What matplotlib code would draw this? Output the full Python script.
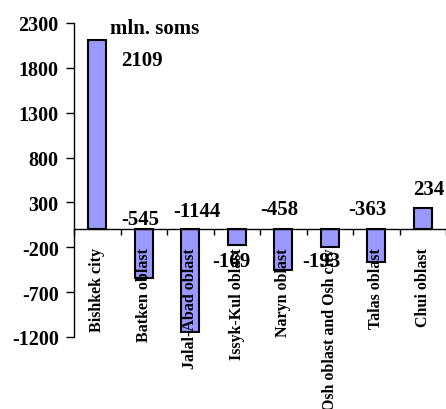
import matplotlib
matplotlib.use("Agg")
import matplotlib.pyplot as plt
import matplotlib.transforms as mtransforms
import numpy as np

categories = ["Bishkek city", "Batken oblast", "Jalal-Abad oblast", "Issyk-Kul oblast",
              "Naryn oblast", "Osh oblast and Osh city", "Talas oblast", "Chui oblast"]
values = [2109, -545, -1144, -169, -458, -193, -363, 234]
yticks = [2300, 1800, 1300, 800, 300, -200, -700, -1200]
unit_label = "mln. soms"

# label offsets in pixels (dx, dy) relative to bar top / zero line
label_offsets = [(45, -20), (-4, 10), (7, 18), (-5, -32), (-4, 20), (-8, -32), (-9, 20), (6, 19)]

plt.rcParams['font.family'] = ['Liberation Serif', 'DejaVu Serif']
plt.rcParams['font.weight'] = 'bold'

fig = plt.figure(figsize=(4.46, 4.10), dpi=100)
ax = fig.add_axes([74/446, 1-338/410, 1-74/446, (338-24)/410])

x = np.arange(len(categories))
bars = ax.bar(x, values, width=0.39, color='#9999FF', edgecolor='black', linewidth=1.5, zorder=2)

ax.set_xlim(-0.5, len(categories)-0.5)
ax.set_ylim(min(yticks), max(yticks))
ax.set_yticks(yticks)
ax.set_yticklabels([str(t) for t in yticks], fontsize=14.5, fontweight='bold')
ax.tick_params(axis='y', direction='out', length=6, width=1, pad=5)

ax.spines['top'].set_visible(False)
ax.spines['right'].set_visible(False)
ax.spines['bottom'].set_position(('data', 0))
for s in ax.spines.values():
    s.set_linewidth(1)
    s.set_zorder(5)
ax.xaxis.set_zorder(6)
ax.yaxis.set_zorder(6)

ax.set_xticks(np.arange(len(categories)+1) - 0.5)
ax.set_xticklabels([])
ax.tick_params(axis='x', which='major', direction='out', length=4, width=1)
ax.set_xticks(x, minor=True)
ax.set_xticklabels(categories, minor=True, rotation=90, fontsize=11.5, fontweight='bold',
                   va='top', ha='center')
ax.tick_params(axis='x', which='minor', length=0, pad=13)

for i, v in enumerate(values):
    dx, dy = label_offsets[i]
    base = v if v > 0 else 0
    ax.annotate(str(v), xy=(i, base), xytext=(dx, dy), textcoords='offset pixels',
                ha='center', va='center', fontsize=15, fontweight='bold', zorder=7)

unit_tr = ax.transAxes + mtransforms.ScaledTranslation(0, -10/100, fig.dpi_scale_trans)
ax.text(0.097, 1.0, unit_label, transform=unit_tr, ha='left', va='baseline',
        fontsize=15, fontweight='bold')

fig.savefig("out.png", dpi=100)
